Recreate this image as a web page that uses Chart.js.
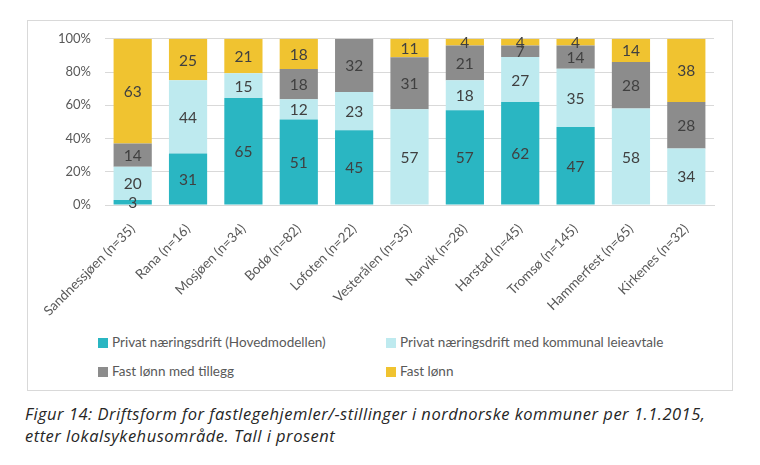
<!DOCTYPE html>
<html><head><meta charset="utf-8">
<script src="https://cdn.jsdelivr.net/npm/chart.js@4/dist/chart.umd.min.js"></script>
<style>
html,body{margin:0;padding:0;background:#fff;width:760px;height:465px;overflow:hidden;}
#box{position:absolute;left:27px;top:20px;width:704px;height:369px;border:1px solid #d9d9d9;}
#wrap{position:absolute;left:0;top:-4px;width:704px;height:304px;}
.leg{position:absolute;font-family:Lato,sans-serif;font-size:13.5px;color:#595959;white-space:nowrap;line-height:16px;}
.leg span.sw{display:inline-block;width:10px;height:10px;margin-right:4px;vertical-align:-1px;}
#cap{position:absolute;left:25px;top:403px;font-family:"Open Sans",sans-serif;font-style:italic;font-size:16.5px;line-height:22px;color:#262626;letter-spacing:0.5px;white-space:nowrap;}
</style></head>
<body>
<div id="box"><div id="wrap"><canvas id="c"></canvas></div><div id="legend"></div></div>
<div id="cap">Figur 14: Driftsform for fastlegehjemler/-stillinger i nordnorske kommuner per 1.1.2015,<br>etter lokalsykehusområde. Tall i prosent</div>
<script>
const categories = ["Sandnessjøen (n=35)","Rana (n=16)","Mosjøen (n=34)","Bodø (n=82)","Lofoten (n=22)","Vesterålen (n=35)","Narvik (n=28)","Harstad (n=45)","Tromsø (n=145)","Hammerfest (n=65)","Kirkenes (n=32)"];
const seriesNames = ["Privat næringsdrift (Hovedmodellen)","Privat næringsdrift med kommunal leieavtale","Fast lønn med tillegg","Fast lønn"];
const privat =        [3, 31, 65, 51, 45, 0, 57, 62, 47, 0, 0];
const privatKommunal = [20, 44, 15, 12, 23, 57, 18, 27, 35, 58, 34];
const fastTillegg =   [14, 0, 0, 18, 32, 31, 21, 7, 14, 28, 28];
const fastLonn =      [63, 25, 21, 18, 0, 11, 4, 4, 4, 14, 38];
const yTicks = [0, 20, 40, 60, 80, 100];

const colors = ["#2AB6C2", "#BEEAEF", "#8C8C8C", "#F0C330"];
const values = [privat, privatKommunal, fastTillegg, fastLonn];
// 100% stacked: each column is scaled to its own total (rounded shares may sum to 99 or 101)
const totals = categories.map((_, j) => values.reduce((s, a) => s + a[j], 0));
const shares = values.map(a => a.map((v, j) => v / totals[j] * 100));

const labelPlugin = {
  id: 'vals',
  afterDatasetsDraw(chart) {
    const ctx = chart.ctx;
    ctx.save();
    ctx.font = '15.5px Lato, sans-serif';
    ctx.fillStyle = '#404040';
    ctx.textAlign = 'center';
    ctx.textBaseline = 'middle';
    chart.data.datasets.forEach((ds, i) => {
      const meta = chart.getDatasetMeta(i);
      meta.data.forEach((bar, j) => {
        const v = values[i][j];
        if (!v) return;
        const p = bar.getProps(['x','y','base'], true);
        ctx.fillText(String(v), p.x, (p.y + p.base) / 2 + 1);
      });
    });
    ctx.restore();
  }
};

new Chart(document.getElementById('c'), {
  type: 'bar',
  data: {
    labels: categories,
    datasets: seriesNames.map((n, i) => ({
      label: n, data: shares[i], backgroundColor: colors[i], borderWidth: 0,
      categoryPercentage: 1, barPercentage: 0.69
    }))
  },
  options: {
    responsive: true, maintainAspectRatio: false, animation: false,
    layout: { padding: { left: 0, right: 18, top: 14, bottom: 0 } },
    plugins: { legend: { display: false }, tooltip: { enabled: false } },
    scales: {
      x: {
        stacked: true,
        grid: { display: false },
        border: { display: true, color: '#d9d9d9' },
        ticks: { color: '#595959', font: { family: 'Lato', size: 13.5 }, maxRotation: 45, minRotation: 45, autoSkip: false, padding: 8 },
        afterFit(s) { s.height = 116; }
      },
      y: {
        stacked: true, min: 0, max: 100,
        afterBuildTicks(s) { s.ticks = yTicks.map(v => ({ value: v })); },
        grid: { color: '#d9d9d9', drawTicks: false },
        border: { display: false },
        ticks: { color: '#595959', font: { family: 'Lato', size: 13 }, padding: 14, callback: v => v + '%' },
        afterFit(s) { s.width = 77; }
      }
    }
  },
  plugins: [labelPlugin]
});

const legPos = [[70, 313], [358, 313], [70, 342], [358, 342]];
const legEl = document.getElementById('legend');
seriesNames.forEach((n, i) => {
  const d = document.createElement('div');
  d.className = 'leg';
  d.style.left = legPos[i][0] + 'px';
  d.style.top = legPos[i][1] + 'px';
  const sw = document.createElement('span');
  sw.className = 'sw'; sw.style.background = colors[i];
  d.appendChild(sw);
  d.appendChild(document.createTextNode(n));
  legEl.appendChild(d);
});
</script>
</body></html>
